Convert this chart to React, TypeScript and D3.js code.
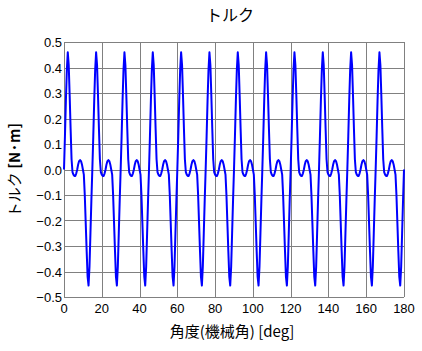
import React, { useEffect, useRef } from 'react';
import * as d3 from 'd3';

// torque [N·m] sampled every 0.5 deg (mechanical), 0..180 deg
const torque: number[] = [
  0.00, 0.13, 0.27, 0.39, 0.46, 0.41, 0.29, 0.16, 0.04, -0.01, -0.02, -0.025, -0.025, -0.015, 0.00, 0.02, 0.033, 0.037, 0.033, 0.02, 0.00, -0.02, -0.10, -0.21, -0.32, -0.42, -0.455, -0.38, -0.25, -0.12,
  0.00, 0.13, 0.27, 0.39, 0.46, 0.41, 0.29, 0.16, 0.04, -0.01, -0.02, -0.025, -0.025, -0.015, 0.00, 0.02, 0.033, 0.037, 0.033, 0.02, 0.00, -0.02, -0.10, -0.21, -0.32, -0.42, -0.455, -0.38, -0.25, -0.12,
  0.00, 0.13, 0.27, 0.39, 0.46, 0.41, 0.29, 0.16, 0.04, -0.01, -0.02, -0.025, -0.025, -0.015, 0.00, 0.02, 0.033, 0.037, 0.033, 0.02, 0.00, -0.02, -0.10, -0.21, -0.32, -0.42, -0.455, -0.38, -0.25, -0.12,
  0.00, 0.13, 0.27, 0.39, 0.46, 0.41, 0.29, 0.16, 0.04, -0.01, -0.02, -0.025, -0.025, -0.015, 0.00, 0.02, 0.033, 0.037, 0.033, 0.02, 0.00, -0.02, -0.10, -0.21, -0.32, -0.42, -0.455, -0.38, -0.25, -0.12,
  0.00, 0.13, 0.27, 0.39, 0.46, 0.41, 0.29, 0.16, 0.04, -0.01, -0.02, -0.025, -0.025, -0.015, 0.00, 0.02, 0.033, 0.037, 0.033, 0.02, 0.00, -0.02, -0.10, -0.21, -0.32, -0.42, -0.455, -0.38, -0.25, -0.12,
  0.00, 0.13, 0.27, 0.39, 0.46, 0.41, 0.29, 0.16, 0.04, -0.01, -0.02, -0.025, -0.025, -0.015, 0.00, 0.02, 0.033, 0.037, 0.033, 0.02, 0.00, -0.02, -0.10, -0.21, -0.32, -0.42, -0.455, -0.38, -0.25, -0.12,
  0.00, 0.13, 0.27, 0.39, 0.46, 0.41, 0.29, 0.16, 0.04, -0.01, -0.02, -0.025, -0.025, -0.015, 0.00, 0.02, 0.033, 0.037, 0.033, 0.02, 0.00, -0.02, -0.10, -0.21, -0.32, -0.42, -0.455, -0.38, -0.25, -0.12,
  0.00, 0.13, 0.27, 0.39, 0.46, 0.41, 0.29, 0.16, 0.04, -0.01, -0.02, -0.025, -0.025, -0.015, 0.00, 0.02, 0.033, 0.037, 0.033, 0.02, 0.00, -0.02, -0.10, -0.21, -0.32, -0.42, -0.455, -0.38, -0.25, -0.12,
  0.00, 0.13, 0.27, 0.39, 0.46, 0.41, 0.29, 0.16, 0.04, -0.01, -0.02, -0.025, -0.025, -0.015, 0.00, 0.02, 0.033, 0.037, 0.033, 0.02, 0.00, -0.02, -0.10, -0.21, -0.32, -0.42, -0.455, -0.38, -0.25, -0.12,
  0.00, 0.13, 0.27, 0.39, 0.46, 0.41, 0.29, 0.16, 0.04, -0.01, -0.02, -0.025, -0.025, -0.015, 0.00, 0.02, 0.033, 0.037, 0.033, 0.02, 0.00, -0.02, -0.10, -0.21, -0.32, -0.42, -0.455, -0.38, -0.25, -0.12,
  0.00, 0.13, 0.27, 0.39, 0.46, 0.41, 0.29, 0.16, 0.04, -0.01, -0.02, -0.025, -0.025, -0.015, 0.00, 0.02, 0.033, 0.037, 0.033, 0.02, 0.00, -0.02, -0.10, -0.21, -0.32, -0.42, -0.455, -0.38, -0.25, -0.12,
  0.00, 0.13, 0.27, 0.39, 0.46, 0.41, 0.29, 0.16, 0.04, -0.01, -0.02, -0.025, -0.025, -0.015, 0.00, 0.02, 0.033, 0.037, 0.033, 0.02, 0.00, -0.02, -0.10, -0.21, -0.32, -0.42, -0.455, -0.38, -0.25, -0.12,
  0.00,
];
const angleStep = 0.5;

const xTicks = [0, 20, 40, 60, 80, 100, 120, 140, 160, 180];
const yTicks = [-0.5, -0.4, -0.3, -0.2, -0.1, 0.0, 0.1, 0.2, 0.3, 0.4, 0.5];

const title = 'トルク';
const xTitle = '角度(機械角) [deg]';
const yTitle = 'トルク';
const yUnit = '[N·m]';

const W = 422;
const H = 351;
const plot = { left: 64, right: 404, top: 42, bottom: 297 };

const App: React.FC = () => {
  const ref = useRef<SVGSVGElement>(null);

  useEffect(() => {
    if (!ref.current) return;
    const svg = d3.select(ref.current);
    svg.selectAll('*').remove();

    const x = d3.scaleLinear().domain([0, 180]).range([plot.left, plot.right]);
    const y = d3.scaleLinear().domain([-0.5, 0.5]).range([plot.bottom, plot.top]);

    svg.append('rect').attr('width', W).attr('height', H).attr('fill', '#fff');

    // grid
    const grid = svg.append('g').attr('stroke', '#808080').attr('stroke-width', 1).attr('shape-rendering', 'crispEdges');
    grid.selectAll('.vx')
      .data(xTicks)
      .join('line')
      .attr('x1', d => Math.round(x(d)) + 0.5)
      .attr('x2', d => Math.round(x(d)) + 0.5)
      .attr('y1', plot.top)
      .attr('y2', plot.bottom);
    grid.selectAll('.hy')
      .data(yTicks)
      .join('line')
      .attr('x1', plot.left)
      .attr('x2', plot.right)
      .attr('y1', d => Math.round(y(d)) + 0.5)
      .attr('y2', d => Math.round(y(d)) + 0.5);

    // torque line
    const line = d3.line<number>()
      .x((d, i) => x(i * angleStep))
      .y(d => y(d));

    svg.append('path')
      .datum(torque)
      .attr('fill', 'none')
      .attr('stroke', '#0000ff')
      .attr('stroke-width', 2)
      .attr('stroke-linejoin', 'round')
      .attr('d', line);

    const font = '"Liberation Sans", Arial, sans-serif';
    const jpFont = '"Noto Sans CJK JP", sans-serif';

    // y tick labels
    svg.append('g')
      .selectAll('text')
      .data(yTicks)
      .join('text')
      .attr('x', plot.left - 2)
      .attr('y', d => y(d) + 5)
      .attr('text-anchor', 'end')
      .attr('font-family', font)
      .attr('font-size', 13)
      .attr('fill', '#000')
      .text(d => (d < 0 ? '\u2212' : '') + d3.format('.1f')(Math.abs(d)));

    // x tick labels
    svg.append('g')
      .selectAll('text')
      .data(xTicks)
      .join('text')
      .attr('x', d => x(d))
      .attr('y', 313)
      .attr('text-anchor', 'middle')
      .attr('font-family', font)
      .attr('font-size', 13)
      .attr('fill', '#000')
      .text(d => d);

    // titles
    svg.append('text')
      .attr('x', 230)
      .attr('y', 21)
      .attr('text-anchor', 'middle')
      .attr('font-family', jpFont)
      .attr('font-size', 16)
      .attr('fill', '#000')
      .text(title);

    svg.append('text')
      .attr('x', 232)
      .attr('y', 337)
      .attr('text-anchor', 'middle')
      .attr('font-family', jpFont)
      .attr('font-size', 15)
      .attr('fill', '#000')
      .text(xTitle);

    const yt = svg.append('text')
      .attr('transform', 'translate(20,170) rotate(-90)')
      .attr('text-anchor', 'middle')
      .attr('font-family', jpFont)
      .attr('font-size', 15)
      .attr('fill', '#000');
    yt.append('tspan').text(yTitle + ' ');
    yt.append('tspan').attr('font-weight', 'bold').text(yUnit);
  }, []);

  return (
    <svg
      ref={ref}
      width={W}
      height={H}
      style={{ position: 'absolute', left: 0, top: 0 }}
    />
  );
};

export default App;
